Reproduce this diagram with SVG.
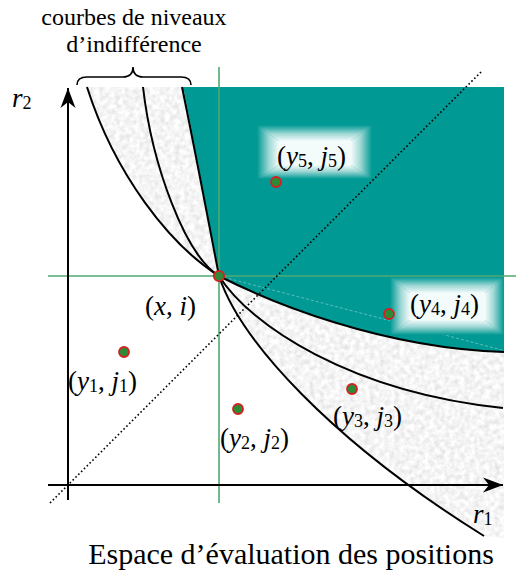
<svg xmlns="http://www.w3.org/2000/svg" width="516" height="579" viewBox="0 0 516 579">
  <style>
    .txt { font-family: "Liberation Serif", "Times New Roman", serif; fill: #000; }
    .lbl { font-size: 27px; }
    .it { font-style: italic; }
    .sub { font-size: 18px; font-style: normal; }
    .curve { fill: none; stroke: #000; stroke-width: 2; }
    .green { stroke: #4fa873; stroke-width: 1.6; fill: none; }
    .axis { stroke: #000; stroke-width: 2; fill: none; }
    .pt { fill: #2e8b35; stroke: #d42020; stroke-width: 1.8; }
    .faint { stroke: #ffffff; stroke-opacity: 0.45; stroke-width: 0.8; stroke-dasharray: 3 2; fill: none; }
  </style>
  <defs>
    <filter id="speckle" x="0" y="0" width="1" height="1">
      <feTurbulence type="fractalNoise" baseFrequency="0.2" numOctaves="2" seed="4" result="noise"/>
      <feColorMatrix in="noise" type="matrix" values="0.42 0 0 0 0.7  0.42 0 0 0 0.7  0.42 0 0 0 0.7  0 0 0 0 1" result="gray"/>
      <feComposite in="gray" in2="SourceGraphic" operator="in"/>
    </filter>
    <linearGradient id="gT" x1="0" y1="0" x2="0" y2="1">
      <stop offset="0" stop-color="#009994"/><stop offset="0.55" stop-color="#9fd8d5"/><stop offset="1" stop-color="#f3fbfb"/>
    </linearGradient>
    <linearGradient id="gB" x1="0" y1="1" x2="0" y2="0">
      <stop offset="0" stop-color="#009994"/><stop offset="0.55" stop-color="#9fd8d5"/><stop offset="1" stop-color="#f3fbfb"/>
    </linearGradient>
    <linearGradient id="gL" x1="0" y1="0" x2="1" y2="0">
      <stop offset="0" stop-color="#009994"/><stop offset="0.55" stop-color="#9fd8d5"/><stop offset="1" stop-color="#f3fbfb"/>
    </linearGradient>
    <linearGradient id="gR" x1="1" y1="0" x2="0" y2="0">
      <stop offset="0" stop-color="#009994"/><stop offset="0.55" stop-color="#9fd8d5"/><stop offset="1" stop-color="#f3fbfb"/>
    </linearGradient>
    <marker id="arrow" markerUnits="userSpaceOnUse" markerWidth="24" markerHeight="18" viewBox="-21 -9 22 18" refX="0" refY="0" orient="auto">
      <path d="M0,0 L-20,-7.5 L-14,0 L-20,7.5 Z" fill="#000"/>
    </marker>
  </defs>

  <g id="regions">
    <path id="gray-region" filter="url(#speckle)" fill="#e8e8e8" d="M87,87 L504,87 L504,538 L484,536 C330,440 240,340 219,276 C170,245 115,175 87,87 Z"/>
    <path id="teal-region" fill="#009994" d="M182,87 L504,87 L504,352 C380,348 270,302 219,276 C212,240 195,150 182,87 Z"/>
    <path class="faint" d="M219,276 L502,350"/>
    <path class="faint" d="M184,92 L218,272"/>
  </g>

  <g id="label-boxes">
    <g id="box5">
      <rect x="279" y="141" width="72" height="24" fill="#f3fbfb"/>
      <polygon points="257,125 372,125 351,141 279,141" fill="url(#gT)"/>
      <polygon points="279,165 351,165 372,179 257,179" fill="url(#gB)"/>
      <polygon points="257,125 279,141 279,165 257,179" fill="url(#gL)"/>
      <polygon points="351,141 372,125 372,179 351,165" fill="url(#gR)"/>
    </g>
    <g id="box4">
      <rect x="410" y="293" width="75" height="27" fill="#f3fbfb"/>
      <polygon points="390,277 504,277 485,293 410,293" fill="url(#gT)"/>
      <polygon points="410,320 485,320 504,335 390,335" fill="url(#gB)"/>
      <polygon points="390,277 410,293 410,320 390,335" fill="url(#gL)"/>
      <polygon points="485,293 504,277 504,335 485,320" fill="url(#gR)"/>
    </g>
  </g>

  <g id="connectors">
    <line class="green" x1="219" y1="67" x2="219" y2="503"/>
    <line class="green" x1="48" y1="276" x2="516" y2="276"/>
    <line x1="50" y1="503" x2="482" y2="71" stroke="#000" stroke-width="1.6" stroke-dasharray="1.6 2.4"/>
    <path class="curve" d="M219,276 C170,245 115,175 87,87"/>
    <path class="curve" d="M219,276 C185,255 152,165 143,87"/>
    <path class="curve" d="M219,276 C212,240 195,150 182,87"/>
    <path class="curve" d="M219,276 C240,340 330,440 484,536"/>
    <path class="curve" d="M219,276 C250,325 350,392 503,408"/>
    <path class="curve" d="M219,276 C270,302 380,348 504,352"/>
    <line class="axis" x1="68" y1="500" x2="68" y2="88" marker-end="url(#arrow)"/>
    <line class="axis" x1="48" y1="485" x2="503" y2="485" marker-end="url(#arrow)"/>
    <path id="brace" d="M77,85 Q77,77 87,77 L123,77 Q133,77 133,67 Q133,77 143,77 L181,77 Q191,77 191,85" fill="none" stroke="#000" stroke-width="1.6"/>
  </g>

  <g id="node-xi">
    <circle class="pt" cx="219" cy="276" r="5.2"/>
    <text class="txt lbl" x="145" y="315">(<tspan class="it">x</tspan>, <tspan class="it">i</tspan>)</text>
  </g>
  <g id="node-y1">
    <circle class="pt" cx="124" cy="352" r="5"/>
    <text class="txt lbl" x="68" y="390">(<tspan class="it">y</tspan><tspan class="sub" dy="2">1</tspan><tspan dy="-2">, </tspan><tspan class="it">j</tspan><tspan class="sub" dy="2">1</tspan><tspan dy="-2">)</tspan></text>
  </g>
  <g id="node-y2">
    <circle class="pt" cx="238" cy="409" r="5"/>
    <text class="txt lbl" x="220" y="447">(<tspan class="it">y</tspan><tspan class="sub" dy="2">2</tspan><tspan dy="-2">, </tspan><tspan class="it">j</tspan><tspan class="sub" dy="2">2</tspan><tspan dy="-2">)</tspan></text>
  </g>
  <g id="node-y3">
    <circle class="pt" cx="352" cy="389" r="5"/>
    <text class="txt lbl" x="333" y="425">(<tspan class="it">y</tspan><tspan class="sub" dy="2">3</tspan><tspan dy="-2">, </tspan><tspan class="it">j</tspan><tspan class="sub" dy="2">3</tspan><tspan dy="-2">)</tspan></text>
  </g>
  <g id="node-y4">
    <circle class="pt" cx="389" cy="314" r="5"/>
    <text class="txt lbl" x="410" y="313">(<tspan class="it">y</tspan><tspan class="sub" dy="2">4</tspan><tspan dy="-2">, </tspan><tspan class="it">j</tspan><tspan class="sub" dy="2">4</tspan><tspan dy="-2">)</tspan></text>
  </g>
  <g id="node-y5">
    <circle class="pt" cx="276" cy="182" r="5"/>
    <text class="txt lbl" x="277" y="165">(<tspan class="it">y</tspan><tspan class="sub" dy="2">5</tspan><tspan dy="-2">, </tspan><tspan class="it">j</tspan><tspan class="sub" dy="2">5</tspan><tspan dy="-2">)</tspan></text>
  </g>

  <g id="axis-labels">
    <text class="txt lbl" x="12" y="107"><tspan class="it">r</tspan><tspan class="sub" dy="2">2</tspan></text>
    <text class="txt lbl" x="473" y="523"><tspan class="it">r</tspan><tspan class="sub" dy="2">1</tspan></text>
  </g>

  <g id="titles">
    <text class="txt" x="134" y="25" font-size="24" text-anchor="middle">courbes de niveaux</text>
    <text class="txt" x="134" y="52" font-size="24" text-anchor="middle">d’indifférence</text>
    <text class="txt" x="291" y="564" font-size="30" text-anchor="middle">Espace d’évaluation des positions</text>
  </g>
</svg>
